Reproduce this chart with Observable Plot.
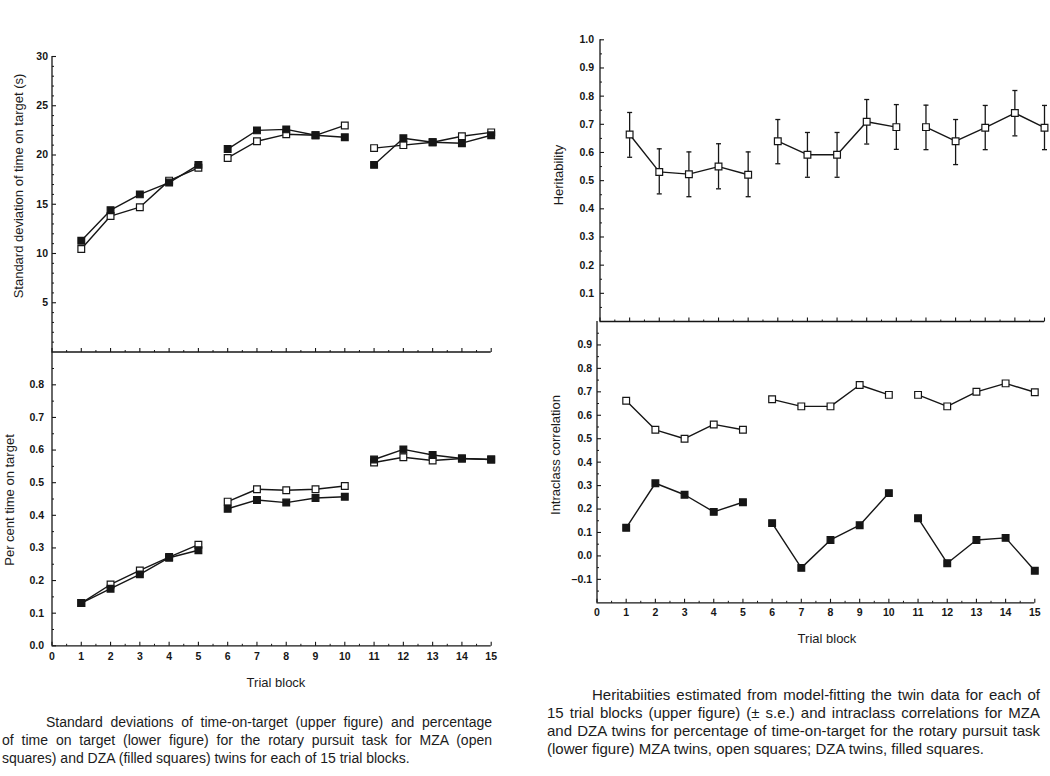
<!DOCTYPE html>
<html>
<head>
<meta charset="utf-8">
<script src="https://cdn.jsdelivr.net/npm/d3@7"></script>
<script src="https://cdn.jsdelivr.net/npm/@observablehq/plot@0.6"></script>
<style>
  body { margin: 0; background: #fff; }
  #root { position: relative; width: 1050px; height: 776px; overflow: hidden; font-family: "Liberation Sans", Arial, sans-serif; color: #1b1b1b; }
  .panel { position: absolute; }
  .panel svg { overflow: visible; background: transparent; display: block; }
  .ytitle { position: absolute; white-space: nowrap; font-size: 13px; transform: translate(-50%, -50%) rotate(-90deg); }
  .xtitle { position: absolute; white-space: nowrap; font-size: 13px; transform: translate(-50%, -50%); }
  .cap { position: absolute; line-height: 18px; }
  .cap div { text-align: justify; text-align-last: justify; white-space: nowrap; }
  .cap div.last { text-align: left; text-align-last: left; }
</style>
</head>
<body>
<div id="root"></div>
<script>
// ---- data ----
const blocks = [1, 2, 3, 4, 5, 6, 7, 8, 9, 10, 11, 12, 13, 14, 15];
const blockGroup = [1, 1, 1, 1, 1, 2, 2, 2, 2, 2, 3, 3, 3, 3, 3];

// Standard deviation of time on target (s)
const sdMZA = [10.45, 13.8, 14.7, 17.4, 18.7, 19.7, 21.4, 22.1, 22.0, 23.0, 20.7, 21.0, 21.3, 21.9, 22.3];
const sdDZA = [11.3, 14.4, 16.0, 17.2, 19.0, 20.6, 22.5, 22.6, 22.0, 21.8, 19.0, 21.7, 21.3, 21.2, 22.0];

// Per cent time on target
const pctMZA = [0.131, 0.188, 0.231, 0.272, 0.310, 0.442, 0.480, 0.477, 0.480, 0.490, 0.562, 0.578, 0.568, 0.574, 0.571];
const pctDZA = [0.131, 0.175, 0.219, 0.270, 0.293, 0.420, 0.447, 0.439, 0.453, 0.457, 0.571, 0.602, 0.585, 0.574, 0.571];

// Heritability (+/- s.e.)
const herit     = [0.664, 0.531, 0.523, 0.550, 0.521, 0.640, 0.592, 0.592, 0.709, 0.690, 0.690, 0.640, 0.688, 0.740, 0.688];
const heritLow  = [0.583, 0.453, 0.443, 0.471, 0.443, 0.560, 0.512, 0.512, 0.630, 0.611, 0.610, 0.557, 0.610, 0.659, 0.610];
const heritHigh = [0.742, 0.613, 0.602, 0.631, 0.602, 0.717, 0.671, 0.671, 0.788, 0.770, 0.768, 0.717, 0.767, 0.820, 0.767];

// Intraclass correlation
const iccMZA = [0.662, 0.538, 0.500, 0.561, 0.538, 0.668, 0.638, 0.638, 0.729, 0.687, 0.687, 0.638, 0.700, 0.736, 0.698];
const iccDZA = [0.120, 0.310, 0.261, 0.188, 0.229, 0.140, -0.051, 0.068, 0.131, 0.268, 0.161, -0.031, 0.068, 0.077, -0.063];

// ticks
const xTicks = [0, 1, 2, 3, 4, 5, 6, 7, 8, 9, 10, 11, 12, 13, 14, 15];
const sdTicks = [5, 10, 15, 20, 25, 30];
const pctTicks = [0.0, 0.1, 0.2, 0.3, 0.4, 0.5, 0.6, 0.7, 0.8];
const heritTicks = [0.1, 0.2, 0.3, 0.4, 0.5, 0.6, 0.7, 0.8, 0.9, 1.0];
const iccTicks = [-0.1, 0.0, 0.1, 0.2, 0.3, 0.4, 0.5, 0.6, 0.7, 0.8, 0.9];

const xMinor = d3.range(0.5, 15, 1);
const sdMinor = d3.range(1, 30, 1).filter(d => d % 5 !== 0);
const pctMinor = d3.range(0.05, 0.9, 0.1);
const heritMinor = d3.range(0.05, 1.0, 0.1);
const iccMinor = d3.range(-0.15, 1.0, 0.1);

// ---- helpers ----
const ink = "#161616";
const root = document.getElementById("root");
const FONT = "'Liberation Sans', Arial, sans-serif";
const TICK_FONT = 10.5;

// custom symbols: tick marks whose length equals r (size = pi r^2)
const tickRight = {draw(ctx, size) { const L = Math.sqrt(size / Math.PI); ctx.moveTo(0, 0); ctx.lineTo(L, 0); }};
const tickUp = {draw(ctx, size) { const L = Math.sqrt(size / Math.PI); ctx.moveTo(0, 0); ctx.lineTo(0, -L); }};
const capSymbol = {draw(ctx, size) { const L = Math.sqrt(size / Math.PI); ctx.moveTo(-L, 0); ctx.lineTo(L, 0); }};

function rows(values, twin) {
  return blocks.map((b, i) => ({block: b, group: blockGroup[i], twin, value: values[i]}));
}

function yAxisMarks(major, minor, fmt, pad) {
  return [
    Plot.ruleX([0], {stroke: ink, strokeWidth: 1.3}),
    Plot.dot(minor, {y: d => d, frameAnchor: "left", symbol: tickRight, r: 2, stroke: ink, strokeWidth: 1}),
    Plot.dot(major, {y: d => d, frameAnchor: "left", symbol: tickRight, r: 4, stroke: ink, strokeWidth: 1.1}),
    Plot.text(major, {y: d => d, frameAnchor: "left", textAnchor: "end", dx: -pad, text: fmt,
      fontSize: TICK_FONT, fontWeight: "bold", fill: ink})
  ];
}

function xAxisMarks(y0, labels, pad) {
  const m = [
    Plot.ruleY([y0], {stroke: ink, strokeWidth: 1.3}),
    Plot.dot(xMinor, {x: d => d, frameAnchor: "bottom", symbol: tickUp, r: 2, stroke: ink, strokeWidth: 1}),
    Plot.dot(xTicks, {x: d => d, frameAnchor: "bottom", symbol: tickUp, r: 4, stroke: ink, strokeWidth: 1.1})
  ];
  if (labels) m.push(Plot.text(xTicks, {x: d => d, frameAnchor: "bottom", lineAnchor: "top", dy: pad,
    text: d => String(d), fontSize: TICK_FONT, fontWeight: "bold", fill: ink}));
  return m;
}

function seriesMarks(data) {
  return [
    Plot.line(data, {x: "block", y: "value", z: d => d.twin + d.group, stroke: ink, strokeWidth: 1.4}),
    Plot.dot(data, {x: "block", y: "value", symbol: "square", r: 3.8,
      fill: d => d.twin === "MZA" ? "white" : ink, stroke: ink, strokeWidth: 1.2})
  ];
}

function panel(cfg) {
  const svg = Plot.plot({
    width: cfg.width, height: cfg.height,
    marginTop: cfg.mt, marginBottom: cfg.mb, marginLeft: cfg.ml, marginRight: cfg.mr,
    x: {domain: [0, 15], axis: null},
    y: {domain: cfg.ydomain, axis: null},
    style: {background: "transparent", overflow: "visible", fontFamily: FONT},
    marks: cfg.marks
  });
  const div = document.createElement("div");
  div.className = "panel";
  div.style.left = cfg.left + "px";
  div.style.top = cfg.top + "px";
  div.appendChild(svg);
  root.appendChild(div);
}

function addText(cls, text, x, y) {
  const d = document.createElement("div");
  d.className = cls;
  d.textContent = text;
  d.style.left = x + "px";
  d.style.top = y + "px";
  root.appendChild(d);
}

// ---- upper left: SD of time on target ----
panel({
  left: 0, top: 0, width: 520, height: 360, mt: 56, mb: 8.5, ml: 51.5, mr: 29.3,
  ydomain: [0, 30],
  marks: [
    ...yAxisMarks(sdTicks, sdMinor, d => String(d), 4),
    ...xAxisMarks(0, false),
    ...seriesMarks(rows(sdMZA, "MZA")),
    ...seriesMarks(rows(sdDZA, "DZA"))
  ]
});

// ---- lower left: per cent time on target ----
panel({
  left: 0, top: 340, width: 520, height: 340, mt: 11.7, mb: 34.7, ml: 51.5, mr: 29.3,
  ydomain: [0, 0.9],
  marks: [
    ...yAxisMarks(pctTicks, pctMinor, d => d.toFixed(1), 8),
    ...xAxisMarks(0, true, 6.5),
    ...seriesMarks(rows(pctMZA, "MZA")),
    ...seriesMarks(rows(pctDZA, "DZA"))
  ]
});

// ---- upper right: heritability ----
const heritRows = blocks.map((b, i) => ({block: b, group: blockGroup[i], twin: "MZA", value: herit[i], lo: heritLow[i], hi: heritHigh[i]}));
panel({
  left: 540, top: 0, width: 510, height: 330, mt: 39.3, mb: 9, ml: 59.5, mr: 6,
  ydomain: [0, 1.0],
  marks: [
    ...yAxisMarks(heritTicks, heritMinor, d => d.toFixed(1), 6),
    ...xAxisMarks(0, false),
    Plot.ruleX(heritRows, {x: "block", y1: "lo", y2: "hi", stroke: ink, strokeWidth: 1.3}),
    Plot.dot(heritRows, {x: "block", y: "lo", symbol: capSymbol, r: 2.5, stroke: ink, strokeWidth: 1.3, fill: "none"}),
    Plot.dot(heritRows, {x: "block", y: "hi", symbol: capSymbol, r: 2.5, stroke: ink, strokeWidth: 1.3, fill: "none"}),
    ...seriesMarks(heritRows)
  ]
});

// ---- lower right: intraclass correlation ----
panel({
  left: 540, top: 310, width: 510, height: 330, mt: 11, mb: 37.7, ml: 56.5, mr: 15.7,
  ydomain: [-0.2, 1.0],
  marks: [
    ...yAxisMarks(iccTicks, iccMinor, d => (d < -1e-9 ? "\u2013" : "") + Math.abs(d).toFixed(1), 5),
    ...xAxisMarks(-0.2, true, 6),
    ...seriesMarks(rows(iccMZA, "MZA")),
    ...seriesMarks(rows(iccDZA, "DZA"))
  ]
});

// ---- axis titles ----
addText("ytitle", "Standard deviation of time on target (s)", 18, 186);
addText("ytitle", "Per cent time on target", 8.5, 500);
addText("ytitle", "Heritability", 558, 175);
addText("ytitle", "Intraclass correlation", 555, 455);
addText("xtitle", "Trial block", 276, 682);
addText("xtitle", "Trial block", 827, 638);

// ---- captions ----
function caption(lines, left, top, width, indent, size) {
  const c = document.createElement("div");
  c.className = "cap";
  c.style.left = left + "px";
  c.style.top = top + "px";
  c.style.width = width + "px";
  c.style.fontSize = size + "px";
  lines.forEach((t, i) => {
    const l = document.createElement("div");
    l.textContent = t;
    if (i === 0) l.style.paddingLeft = indent + "px";
    if (i === lines.length - 1) l.className = "last";
    c.appendChild(l);
  });
  root.appendChild(c);
}
caption([
  "Standard deviations of time-on-target (upper figure) and percentage",
  "of time on target (lower figure) for the rotary pursuit task for MZA (open",
  "squares) and DZA (filled squares) twins for each of 15 trial blocks."
], 2, 713, 490, 44, 14);
caption([
  "Heritabiities estimated from model-fitting the twin data for each of",
  "15 trial blocks (upper figure) (\u00b1 s.e.) and intraclass correlations for MZA",
  "and DZA twins for percentage of time-on-target for the rotary pursuit task",
  "(lower figure) MZA twins, open squares; DZA twins, filled squares."
], 547, 686, 493, 45, 15);
</script>
</body>
</html>
